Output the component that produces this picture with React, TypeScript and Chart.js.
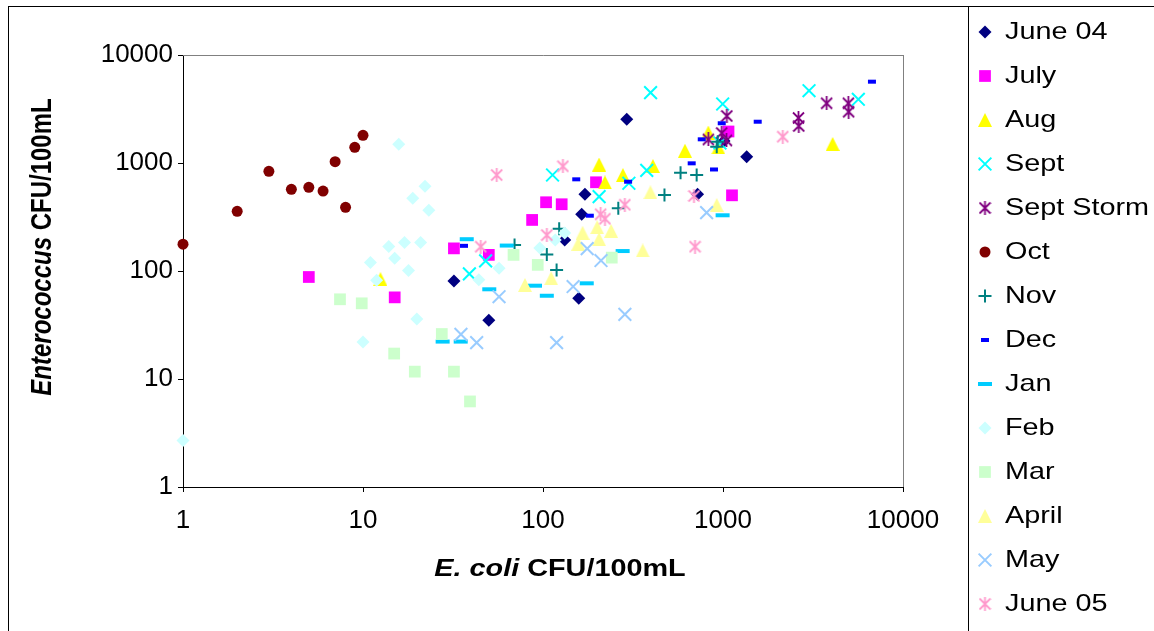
import React, { useEffect, useRef } from 'react';
import { Chart, registerables } from 'chart.js';
import { drawPoint } from 'chart.js/helpers';

Chart.register(...registerables);

// ---------- DATA ----------
const seriesNames = ['June 04', 'July', 'Aug', 'Sept', 'Sept Storm', 'Oct', 'Nov', 'Dec', 'Jan', 'Feb', 'Mar', 'April', 'May', 'June 05'];

const june04X = [32, 50, 132, 158, 164, 171, 292, 722, 1013, 1354];
const june04Y = [81, 35, 194, 56, 336, 513, 2540, 514, 1600, 1143];

const julyX = [5, 15, 32, 50, 87, 104, 127, 197, 1073, 1122];
const julyY = [88, 57, 162, 141, 297, 433, 415, 663, 1958, 502];

const augX = [12.5, 205, 221, 278, 408, 615, 829, 942, 4067];
const augY = [84, 968, 660, 774, 938, 1300, 1915, 1393, 1500];

const septX = [39, 48, 113, 205, 300, 377, 396, 996, 962, 3006, 5648];
const septY = [94, 124, 774, 488, 649, 855, 4477, 3516, 1531, 4670, 3890];

const septStormX = [829, 984, 1045, 1050, 2625, 2636, 3767, 4970, 4990];
const septStormY = [1651, 1895, 1616, 2724, 2612, 2203, 3571, 3571, 2985];

const octX = [1, 2, 3, 4, 5, 6, 7, 8, 9, 10];
const octY = [177, 357, 838, 570, 596, 550, 1028, 389, 1397, 1804];

const novX = [69.5, 105, 119, 123, 262, 473, 581, 714, 923, 935];
const novY = [174, 142, 102, 246, 381, 506, 813, 774, 1416, 1575];

const decX = [36.4, 153, 182, 297, 670, 762, 891, 984, 1559, 6722];
const decY = [171, 706, 325, 671, 993, 1657, 871, 2333, 2411, 5662];

const janX = [27.7, 34.9, 37.7, 50.3, 62.9, 90.3, 105, 175, 277, 995];
const janY = [22.2, 22.2, 197, 67.7, 172, 73.1, 59, 76.9, 153, 328];

const febX = [1, 10, 11, 11.9, 13.9, 15, 15.8, 17, 17.9, 18.9, 19.9, 20.9, 22.1, 23.2, 44, 57, 96, 117, 132];
const febY = [2.7, 22, 120, 82, 169, 131, 1490, 184, 101, 471, 36, 184, 609, 365, 83, 106, 163, 194, 225];

const marX = [7.45, 9.84, 14.9, 19.4, 27.4, 32, 39.3, 68.6, 93.5, 241];
const marY = [54.7, 50.2, 17.2, 11.7, 26.1, 11.7, 6.2, 141, 114, 133];

const aprilX = [79.4, 111, 157, 166, 200, 205, 239, 358, 395, 923];
const aprilY = [74.2, 85.6, 179, 226, 254, 197, 235, 155, 535, 408];

const mayX = [35, 42.8, 57, 119, 147, 176, 210, 285, 811];
const mayY = [25.9, 21.7, 57.8, 21.7, 71.8, 161, 125, 39.7, 347];

const june05X = [45.1, 55.3, 105, 129, 209, 221, 285, 690, 699, 2148];
const june05Y = [168, 774, 215, 932, 335, 305, 411, 495, 168, 1753];

const seriesX = [june04X, julyX, augX, septX, septStormX, octX, novX, decX, janX, febX, marX, aprilX, mayX, june05X];
const seriesY = [june04Y, julyY, augY, septY, septStormY, octY, novY, decY, janY, febY, marY, aprilY, mayY, june05Y];

const xTickValues = [1, 10, 100, 1000, 10000];
const yTickValues = [1, 10, 100, 1000, 10000];

const xTitleItalic = 'E. coli';
const xTitleRest = ' CFU/100mL';
const yTitleItalic = 'Enterococcus';
const yTitleRest = ' CFU/100mL';

// ---------- STYLE ----------
const FAMILY = '"Liberation Sans", Arial, sans-serif';

function makeCanvas(w: number, h: number, paint: (g: CanvasRenderingContext2D) => void) {
  const c = document.createElement('canvas');
  c.width = w;
  c.height = h;
  const g = c.getContext('2d') as CanvasRenderingContext2D;
  paint(g);
  return c;
}

function triangleImg(color: string, w: number, h: number) {
  return makeCanvas(w, h, (g) => {
    g.fillStyle = color;
    g.beginPath();
    g.moveTo(w / 2, 0);
    g.lineTo(w, h);
    g.lineTo(0, h);
    g.closePath();
    g.fill();
  });
}

function asteriskImg(color: string, w: number, h: number, lw: number) {
  return makeCanvas(w, h, (g) => {
    g.strokeStyle = color;
    g.lineWidth = lw;
    g.beginPath();
    g.moveTo(w / 2, 0);
    g.lineTo(w / 2, h);
    g.moveTo(1, 1.5);
    g.lineTo(w - 1, h - 1.5);
    g.moveTo(w - 1, 1.5);
    g.lineTo(1, h - 1.5);
    g.stroke();
  });
}

function buildStyles() {
  return [
    { pointStyle: 'rectRot', radius: 6.5, bg: '#000080', border: '#000080', bw: 0 },
    { pointStyle: 'rect', radius: 8.3, bg: '#FF00FF', border: '#FF00FF', bw: 0 },
    { pointStyle: triangleImg('#FFFF00', 14, 14), radius: 7, bg: '#FFFF00', border: '#FFFF00', bw: 0 },
    { pointStyle: 'crossRot', radius: 9, bg: '#00FFFF', border: '#00FFFF', bw: 2 },
    { pointStyle: asteriskImg('#800080', 13, 14, 1.8), radius: 7, bg: '#800080', border: '#800080', bw: 0 },
    { pointStyle: 'circle', radius: 5.5, bg: '#800000', border: '#800000', bw: 0 },
    { pointStyle: 'cross', radius: 6.5, bg: '#008080', border: '#008080', bw: 2 },
    { pointStyle: 'line', radius: 4, bg: '#0000FF', border: '#0000FF', bw: 4 },
    { pointStyle: 'line', radius: 7, bg: '#00CCFF', border: '#00CCFF', bw: 4 },
    { pointStyle: 'rectRot', radius: 6.5, bg: '#CCFFFF', border: '#CCFFFF', bw: 0 },
    { pointStyle: 'rect', radius: 8.3, bg: '#CCFFCC', border: '#CCFFCC', bw: 0 },
    { pointStyle: triangleImg('#FFFF99', 14, 14), radius: 7, bg: '#FFFF99', border: '#FFFF99', bw: 0 },
    { pointStyle: 'crossRot', radius: 9, bg: '#99CCFF', border: '#99CCFF', bw: 2 },
    { pointStyle: asteriskImg('#FF99CC', 13, 14, 1.8), radius: 7, bg: '#FF99CC', border: '#FF99CC', bw: 0 },
  ];
}

function drawMixed(ctx: CanvasRenderingContext2D, italic: string, rest: string, size: number) {
  const fItalic = `italic bold ${size}px ${FAMILY}`;
  const fBold = `bold ${size}px ${FAMILY}`;
  ctx.font = fItalic;
  const w1 = ctx.measureText(italic).width;
  ctx.font = fBold;
  const w2 = ctx.measureText(rest).width;
  const start = -(w1 + w2) / 2;
  ctx.textAlign = 'left';
  ctx.font = fItalic;
  ctx.fillText(italic, start, 0);
  ctx.font = fBold;
  ctx.fillText(rest, start + w1, 0);
}

export default function App() {
  const ref = useRef<HTMLCanvasElement>(null);

  useEffect(() => {
    const canvas = ref.current;
    if (!canvas) return;
    const styles = buildStyles();

    const decor = {
      id: 'decor',
      beforeDraw(chart: any) {
        const ctx = chart.ctx;
        ctx.save();
        ctx.fillStyle = '#ffffff';
        ctx.fillRect(0, 0, chart.width, chart.height);
        ctx.strokeStyle = '#000000';
        ctx.lineWidth = 1;
        ctx.strokeRect(8.5, 6.5, 1400, 1000);
        ctx.strokeRect(968.5, 6.5, 1400, 1000);
        ctx.restore();
      },
      beforeDatasetsDraw(chart: any) {
        const ctx = chart.ctx;
        const { left, top, right, bottom } = chart.chartArea;
        ctx.save();
        ctx.strokeStyle = '#808080';
        ctx.lineWidth = 1;
        ctx.beginPath();
        ctx.moveTo(left, Math.round(top) + 0.5);
        ctx.lineTo(right + 0.5, Math.round(top) + 0.5);
        ctx.moveTo(Math.round(right) + 0.5, top);
        ctx.lineTo(Math.round(right) + 0.5, bottom);
        ctx.stroke();
        ctx.restore();
      },
      afterDraw(chart: any) {
        const ctx = chart.ctx;
        ctx.save();
        ctx.fillStyle = '#000000';
        ctx.textBaseline = 'alphabetic';
        // x title
        ctx.save();
        ctx.translate(560, 576);
        ctx.scale(1.2, 1);
        drawMixed(ctx, xTitleItalic, xTitleRest, 24);
        ctx.restore();
        // y title
        ctx.save();
        ctx.translate(51, 247);
        ctx.rotate(-Math.PI / 2);
        ctx.scale(1, 1.2);
        drawMixed(ctx, yTitleItalic, yTitleRest, 24);
        ctx.restore();
        // legend
        seriesNames.forEach((name, i) => {
          const s = styles[i];
          const y = 32 + 44 * i;
          ctx.save();
          ctx.fillStyle = s.bg;
          ctx.strokeStyle = s.border;
          ctx.lineWidth = s.bw;
          drawPoint(ctx, { pointStyle: s.pointStyle as any, radius: s.radius, rotation: 0, borderWidth: s.bw } as any, 985, y);
          ctx.restore();
          ctx.save();
          ctx.translate(1005, y);
          ctx.scale(1.2, 1);
          ctx.font = `24px ${FAMILY}`;
          ctx.fillStyle = '#000000';
          ctx.textBaseline = 'middle';
          ctx.textAlign = 'left';
          ctx.fillText(name, 0, 0);
          ctx.restore();
        });
        ctx.restore();
      },
    };

    const datasets = seriesNames.map((name, i) => {
      const s = styles[i];
      return {
        label: name,
        data: seriesX[i].map((x, j) => ({ x, y: seriesY[i][j] })),
        pointStyle: s.pointStyle as any,
        pointRadius: s.radius,
        pointHoverRadius: s.radius,
        backgroundColor: s.bg,
        borderColor: s.border,
        borderWidth: s.bw,
        pointBorderWidth: s.bw,
        showLine: false,
        clip: false as any,
        order: 14 - i,
      };
    });

    const tickFont = { family: FAMILY, size: 26 };

    const chart = new Chart(canvas, {
      type: 'scatter',
      data: { datasets },
      plugins: [decor],
      options: {
        responsive: false,
        maintainAspectRatio: false,
        animation: false,
        layout: { padding: { left: 8, top: 55, right: 251, bottom: 0 } },
        plugins: {
          legend: { display: false },
          tooltip: { enabled: false },
          title: { display: false },
        },
        scales: {
          x: {
            type: 'logarithmic',
            position: 'bottom',
            min: 1,
            max: 10000,
            afterBuildTicks: (scale: any) => {
              scale.ticks = xTickValues.map((v) => ({ value: v }));
            },
            afterFit: (scale: any) => {
              scale.height = 144;
            },
            ticks: {
              callback: (v: any) => String(v),
              font: tickFont,
              color: '#000000',
              padding: 13,
              maxRotation: 0,
              autoSkip: false,
            },
            grid: { drawOnChartArea: false, drawTicks: true, tickLength: 5, color: '#000000', lineWidth: 1 },
            border: { display: true, color: '#000000', width: 1 },
          },
          y: {
            type: 'logarithmic',
            position: 'left',
            min: 1,
            max: 10000,
            afterBuildTicks: (scale: any) => {
              scale.ticks = yTickValues.map((v) => ({ value: v }));
            },
            afterFit: (scale: any) => {
              scale.width = 175;
            },
            ticks: {
              callback: (v: any) => String(v),
              font: tickFont,
              color: '#000000',
              padding: 5,
              autoSkip: false,
            },
            grid: { drawOnChartArea: false, drawTicks: true, tickLength: 5, color: '#000000', lineWidth: 1 },
            border: { display: true, color: '#000000', width: 1 },
          },
        },
      } as any,
    });

    return () => {
      chart.destroy();
    };
  }, []);

  return (
    <div style={{ position: 'absolute', left: 0, top: 0, width: 1154, height: 631, background: '#ffffff', overflow: 'hidden' }}>
      <canvas ref={ref} width={1154} height={631} style={{ display: 'block', width: 1154, height: 631 }} />
    </div>
  );
}
